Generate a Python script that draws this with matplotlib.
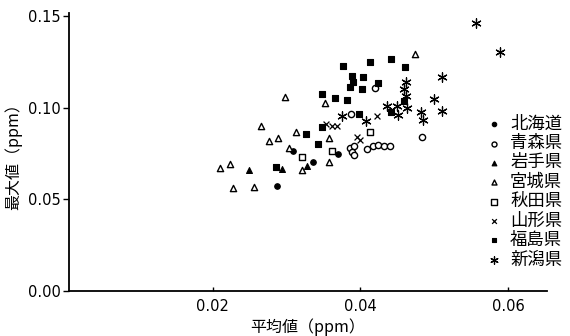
import matplotlib
matplotlib.use("Agg")
from matplotlib import pyplot as plt
from matplotlib.ticker import FormatStrFormatter

plt.rcParams['font.family'] = ['Noto Sans CJK JP', 'DejaVu Sans']

# 各県の測定局: 平均値 (x) と 最大値 (y), 単位 ppm
hokkaido_x = [0.0287, 0.0309, 0.0336, 0.0370]
hokkaido_y = [0.0573, 0.0764, 0.0704, 0.0747]

aomori_x = [0.0386, 0.0391, 0.0389, 0.0391, 0.0409, 0.0417, 0.0424, 0.0432, 0.0440, 0.0387, 0.0420, 0.0483]
aomori_y = [0.0780, 0.0791, 0.0758, 0.0742, 0.0775, 0.0791, 0.0797, 0.0791, 0.0791, 0.0966, 0.1107, 0.0840]

iwate_x = [0.0249, 0.0294, 0.0328]
iwate_y = [0.0660, 0.0666, 0.0682]

miyagi_x = [0.0210, 0.0223, 0.0227, 0.0256, 0.0265, 0.0276, 0.0288, 0.0298, 0.0313, 0.0303,
            0.0321, 0.0352, 0.0357, 0.0357, 0.0474]
miyagi_y = [0.0671, 0.0693, 0.0562, 0.0567, 0.0900, 0.0818, 0.0835, 0.1058, 0.0867, 0.0780,
            0.0660, 0.1026, 0.0835, 0.0704, 0.1293]

akita_x = [0.0321, 0.0361, 0.0413]
akita_y = [0.0731, 0.0764, 0.0867]

yamagata_x = [0.0353, 0.0361, 0.0368, 0.0395, 0.0399, 0.0422]
yamagata_y = [0.0911, 0.0900, 0.0900, 0.0840, 0.0824, 0.0955]

fukushima_x = [0.0348, 0.0365, 0.0382, 0.0376, 0.0413, 0.0441, 0.0460, 0.0388, 0.0390, 0.0386,
               0.0403, 0.0402, 0.0424, 0.0398, 0.0441, 0.0459, 0.0348, 0.0326, 0.0342, 0.0285]
fukushima_y = [0.1075, 0.1053, 0.1042, 0.1227, 0.1249, 0.1266, 0.1222, 0.1173, 0.1140, 0.1113,
               0.1167, 0.1102, 0.1135, 0.0966, 0.0977, 0.1037, 0.0895, 0.0857, 0.0802, 0.0676]

niigata_x = [0.0375, 0.0407, 0.0436, 0.0450, 0.0451, 0.0462, 0.0459, 0.0462, 0.0463, 0.0482,
             0.0485, 0.0500, 0.0511, 0.0511, 0.0557, 0.0589]
niigata_y = [0.0955, 0.0927, 0.1009, 0.1009, 0.0960, 0.1140, 0.1102, 0.1064, 0.0998, 0.0977,
             0.0933, 0.1047, 0.1167, 0.0982, 0.1462, 0.1304]

x_ticks = [0.02, 0.04, 0.06]
y_ticks = [0.00, 0.05, 0.10, 0.15]

fig = plt.figure(figsize=(5.7, 3.36), dpi=100)
ax = fig.add_axes([0.1211, 0.134, 0.8386, 0.826])

# (label, x, y, marker, filled, size)
series = [
    ("北海道", hokkaido_x, hokkaido_y, "o", True, 16),
    ("青森県", aomori_x, aomori_y, "o", False, 20),
    ("岩手県", iwate_x, iwate_y, "^", True, 18),
    ("宮城県", miyagi_x, miyagi_y, "^", False, 20),
    ("秋田県", akita_x, akita_y, "s", False, 22),
    ("山形県", yamagata_x, yamagata_y, "x", True, 18),
    ("福島県", fukushima_x, fukushima_y, "s", True, 20),
    ("新潟県", niigata_x, niigata_y, (6, 2, 0), True, 45),
]

for label, xs, ys, marker, filled, size in series:
    if marker in ("x", (6, 2, 0)):
        ax.scatter(xs, ys, marker=marker, s=size, c="black", linewidths=0.9, label=label)
    elif filled:
        ax.scatter(xs, ys, marker=marker, s=size, c="black", edgecolors="black", linewidths=0.8, label=label)
    else:
        ax.scatter(xs, ys, marker=marker, s=size, facecolors="white", edgecolors="black", linewidths=1.0, label=label)

ax.set_xlim(0.0005, 0.0653)
ax.set_ylim(0, 0.1515)

ax.spines['top'].set_visible(False)
ax.spines['right'].set_visible(False)
ax.spines['left'].set_linewidth(1.3)
ax.spines['bottom'].set_linewidth(1.3)

ax.set_xticks(x_ticks)
ax.set_yticks(y_ticks)
ax.xaxis.set_major_formatter(FormatStrFormatter('%.2f'))
ax.yaxis.set_major_formatter(FormatStrFormatter('%.2f'))
ax.tick_params(axis='y', direction='out', length=4, width=1, pad=2)
ax.tick_params(axis='x', direction='in', length=3, width=1, pad=6)
for lbl in ax.get_xticklabels() + ax.get_yticklabels():
    lbl.set_family('DejaVu Sans')
    lbl.set_fontsize(10.5)

ax.set_xlabel("平均値（ppm）", fontsize=11.5, labelpad=3)
ax.set_ylabel("最大値（ppm）", fontsize=11.5, labelpad=4)

ax.legend(loc='upper left', bbox_to_anchor=(0.840, 0.6845), bbox_transform=fig.transFigure,
          frameon=False, fontsize=12.5, labelspacing=0.08, handlelength=0.8,
          handletextpad=0.5, borderpad=0, scatterpoints=1, markerscale=0.8)

fig.savefig("out.png", dpi=100)
